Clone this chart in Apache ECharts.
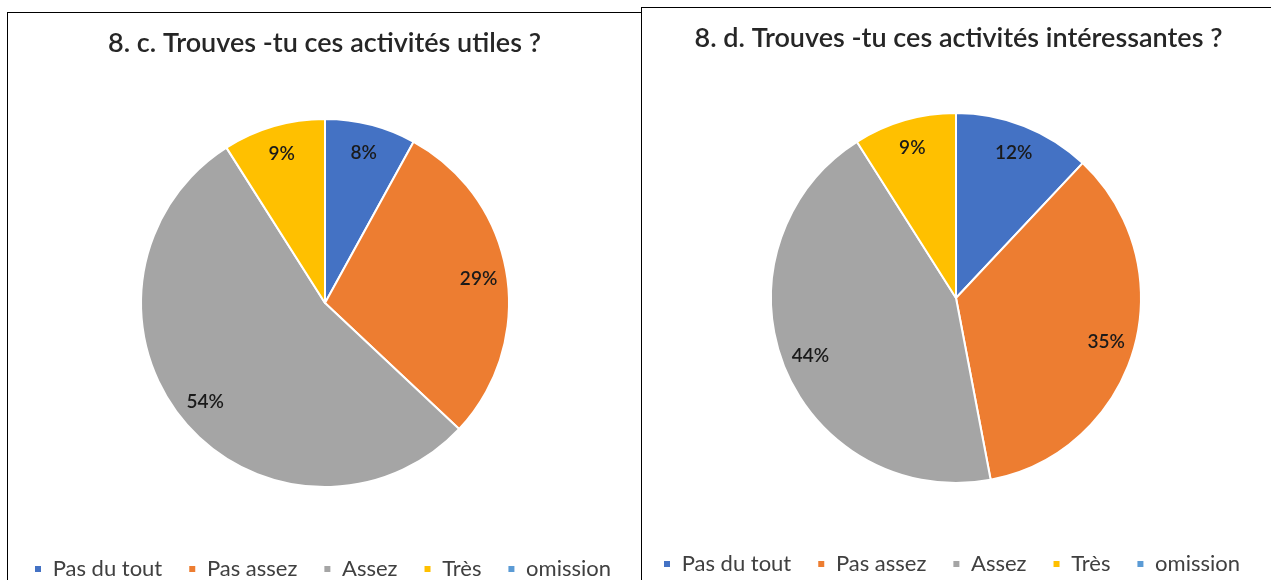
<!DOCTYPE html>
<html>
<head>
    <meta charset="UTF-8">
    <title>Trouves-tu ces activités</title>
    <script src="https://cdn.jsdelivr.net/npm/echarts@6/dist/echarts.min.js"></script>
    <style type="text/css">
        body { margin: 0; padding: 0; background: #fff; overflow: hidden; }
        .panel { position: absolute; border: 1px solid #000; background: #fff; }
        #panel-c { left: 7px; top: 12px; width: 633px; height: 600px; }
        #panel-d { left: 641px; top: 7px; width: 700px; height: 600px; }
        .chart { width: 633px; height: 567px; }
    </style>
</head>
<body>
    <div id="panel-c" class="panel"><div id="chart-c" class="chart"></div></div>
    <div id="panel-d" class="panel"><div id="chart-d" class="chart"></div></div>

    <script type="text/javascript">
    // data
    var categories = ['Pas du tout', 'Pas assez', 'Assez', 'Très', 'omission'];
    var utilesValues = [8, 29, 54, 9, 0];
    var interessantesValues = [12, 35, 44, 9, 0];
    var colors = ['#4472C4', '#ED7D31', '#A5A5A5', '#FFC000', '#5B9BD5'];

    var FONT = 'Lato, "Open Sans", sans-serif';

    function buildOption(title, values, center, radius, legendLeft) {
        var data = categories.map(function (c, i) {
            return { name: c, value: values[i] };
        });
        return {
            color: colors,
            title: {
                text: title,
                left: 'center',
                top: 12,
                textStyle: { fontFamily: FONT, fontSize: 27, fontWeight: 600, color: '#262626' }
            },
            legend: {
                data: categories,
                left: legendLeft,
                top: 545,
                width: 620,
                padding: 0,
                icon: 'rect',
                itemWidth: 8,
                itemHeight: 8,
                itemGap: 25,
                selectedMode: false,
                formatter: ' {name}',
                textStyle: { fontFamily: FONT, fontSize: 22, color: '#404040' }
            },
            series: [
                {
                    type: 'pie',
                    center: center,
                    radius: [0, radius],
                    startAngle: 90,
                    clockwise: true,
                    silent: true,
                    data: data,
                    label: { show: false },
                    labelLine: { show: false },
                    itemStyle: { borderColor: '#fff', borderWidth: 2 }
                },
                {
                    // transparent ring only used to place the percentage labels
                    type: 'pie',
                    center: center,
                    radius: [Math.round(radius * 0.66), radius],
                    startAngle: 90,
                    clockwise: true,
                    silent: true,
                    data: data,
                    itemStyle: { color: 'rgba(0,0,0,0)', borderWidth: 0 },
                    labelLine: { show: false },
                    label: {
                        show: true,
                        position: 'inside',
                        fontFamily: FONT,
                        fontSize: 19,
                        fontWeight: 600,
                        color: '#1a1a1a',
                        formatter: function (p) {
                            return p.value > 0 ? p.value + '%' : '';
                        }
                    }
                }
            ]
        };
    }

    var chartC = echarts.init(document.getElementById('chart-c'));
    chartC.setOption(buildOption('8. c. Trouves -tu ces activités utiles ?', utilesValues, [317, 290], 184, 25));

    var chartD = echarts.init(document.getElementById('chart-d'));
    chartD.setOption(buildOption('8. d. Trouves -tu ces activités intéressantes ?', interessantesValues, [314, 290], 185, 20));
    </script>
</body>
</html>
